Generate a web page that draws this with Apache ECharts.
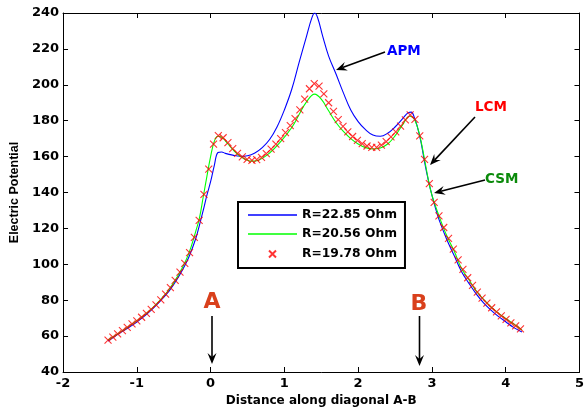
<!DOCTYPE html>
<html><head><meta charset="utf-8">
<script src="https://cdn.jsdelivr.net/npm/echarts@6/dist/echarts.min.js"></script>
<style>html,body{margin:0;padding:0;background:#fff}#c{width:587px;height:413px}</style>
</head><body><div id="c"></div>
<script>
// ---- data ----
const seriesNames = ['R=22.85 Ohm', 'R=20.56 Ohm', 'R=19.78 Ohm'];
const xTicks = [-2, -1, 0, 1, 2, 3, 4, 5];
const yTicks = [40, 60, 80, 100, 120, 140, 160, 180, 200, 220, 240];

// APM, R=22.85 Ohm (blue line)
const apmX = [-1.39,-1.2,-1.0,-0.8,-0.6,-0.5,-0.4,-0.3,-0.2,-0.15,-0.1,-0.05,0.0,0.05,0.1,0.15,0.2,0.3,0.4,0.5,0.6,0.7,0.8,0.9,1.0,1.1,1.2,1.3,1.37,1.41,1.45,1.52,1.6,1.7,1.8,1.9,2.0,2.1,2.2,2.3,2.4,2.5,2.6,2.68,2.72,2.76,2.8,2.85,2.9,2.95,3.0,3.05,3.1,3.2,3.3,3.4,3.5,3.6,3.7,3.8,3.9,4.0,4.1,4.22];
const apmY = [57.3,62.5,67.8,74.6,83.2,88.8,95.5,103.5,114.5,122,130,138.5,146,155,162.3,162.6,161.8,160.8,160.2,160.5,162,165,169.5,176.5,186,197.5,212.5,227,237,240,237.5,227,216,206,195.5,186,179.5,175,172,171.3,173,176.5,181,184.5,184.8,182,177,168.5,157,147,138.5,131,124.5,114,105,96,89.5,83.5,78.5,74.5,71,68,65,62.3];

// CSM, R=20.56 Ohm (green line)
const csmX = [-1.39,-1.2,-1.0,-0.8,-0.6,-0.5,-0.4,-0.3,-0.2,-0.15,-0.1,-0.05,0.0,0.05,0.1,0.15,0.2,0.3,0.4,0.5,0.56,0.65,0.8,0.95,1.1,1.2,1.3,1.41,1.5,1.6,1.7,1.8,1.9,2.0,2.1,2.2,2.3,2.4,2.5,2.6,2.7,2.75,2.8,2.85,2.9,2.95,3.0,3.1,3.2,3.3,3.4,3.5,3.6,3.7,3.8,3.9,4.0,4.1,4.22];
const csmY = [57.8,62.9,68.6,75.2,84,89.8,96.8,105.5,118.5,126,137.5,149,160,168.5,171.3,170.8,168.8,164,160.2,158,157.5,158,162,168.3,176.2,183.5,190.5,194.8,192,185.5,179,174,170,167,165,164.2,164.8,167,171.5,177.5,182.5,181.5,177,169,158.5,147.5,138.5,126.5,116,107.5,97.8,91.5,85.2,80.5,76.2,72.8,69.8,67,63.4];

// LCM, R=19.78 Ohm (red crosses)
const lcmX = [-1.39,-1.325,-1.26,-1.195,-1.13,-1.065,-1.0,-0.935,-0.87,-0.805,-0.74,-0.675,-0.61,-0.545,-0.48,-0.415,-0.35,-0.285,-0.22,-0.155,-0.09,-0.025,0.04,0.105,0.17,0.235,0.3,0.365,0.43,0.495,0.56,0.625,0.69,0.755,0.82,0.885,0.95,1.015,1.08,1.145,1.21,1.275,1.34,1.405,1.47,1.535,1.6,1.665,1.73,1.795,1.86,1.925,1.99,2.055,2.12,2.185,2.25,2.315,2.38,2.445,2.51,2.575,2.64,2.705,2.77,2.835,2.9,2.965,3.03,3.095,3.16,3.225,3.29,3.355,3.42,3.485,3.55,3.615,3.68,3.745,3.81,3.875,3.94,4.005,4.07,4.135,4.2];
const lcmY = [57.8,59.4,61.2,63.0,64.9,66.8,68.5,70.5,72.7,74.9,77.4,80.2,83.4,87.0,91.0,95.6,100.5,106.5,115,124.5,139,153,167,171.7,170.5,167.8,164.5,161.8,159.8,158.5,157.9,158.3,159.6,161.7,164.2,167,170,173.3,177.2,181.2,186,192,197.8,200.6,199.2,195,190,185.2,180.6,176.8,173.8,171.2,169,167.2,165.9,165.1,165.2,166.4,168.4,171,173.8,177,180.5,183.2,180.8,171.5,158.5,145,134.5,127,120.5,114.5,108.5,102.5,97.2,92.5,88.2,84.5,81.2,78.4,75.8,73.5,71.3,69.3,67.4,65.7,64.0];

const pairs = (xs, ys) => xs.map((x, i) => [x, ys[i]]);

const chart = echarts.init(document.getElementById('c'), null, {renderer: 'canvas'});
const tickFont = {fontFamily: 'DejaVu Sans', fontWeight: 'bold', fontSize: 13, color: '#000'};
const crossPath = 'path://M0,0L10,10M10,0L0,10';
const crossLegend = 'path://M-5,-5M15,15M0,0L10,10M10,0L0,10';
const lineLegend = 'path://M0,0M49,14M0,6.3L49,6.3L49,7.7L0,7.7Z';

function arrow(x1, y1, x2, y2) {
  const dx = x2 - x1, dy = y2 - y1, len = Math.hypot(dx, dy);
  const ux = dx / len, uy = dy / len, px = -uy, py = ux;
  const L = 11, W = 4.5, N = 7;
  const bx = x2 - ux * L, by = y2 - uy * L;
  return [
    {type: 'line', shape: {x1: x1, y1: y1, x2: x2 - ux * N, y2: y2 - uy * N}, style: {stroke: '#000', lineWidth: 1.6}},
    {type: 'polygon', shape: {points: [[x2, y2], [bx + px * W, by + py * W], [x2 - ux * N, y2 - uy * N], [bx - px * W, by - py * W]]}, style: {fill: '#000'}}
  ];
}

const annoFont = 'bold 13.5px "DejaVu Sans"';
const graphics = [].concat(
  arrow(385, 52, 336, 70),
  arrow(475, 117, 430, 165),
  arrow(485, 180, 434, 193),
  arrow(212, 316, 212, 364),
  arrow(419.5, 316, 419.5, 366),
  [
    {type: 'text', left: 387, top: 44, style: {text: 'APM', font: annoFont, fill: '#0000ff'}},
    {type: 'text', left: 475, top: 100, style: {text: 'LCM', font: annoFont, fill: '#ff0000'}},
    {type: 'text', left: 485, top: 172, style: {text: 'CSM', font: annoFont, fill: '#0b8a0b'}},
    {type: 'text', x: 212, y: 302, style: {text: 'A', font: 'bold 22px "DejaVu Sans"', fill: '#d9401c', align: 'center', verticalAlign: 'middle'}},
    {type: 'text', x: 419, y: 304, style: {text: 'B', font: 'bold 22px "DejaVu Sans"', fill: '#d9401c', align: 'center', verticalAlign: 'middle'}}
  ]
);

const option = {
  animation: false,
  backgroundColor: '#fff',
  grid: {left: 63, right: 4, top: 13, bottom: 41, containLabel: false},
  legend: {
    orient: 'vertical', left: 238, top: 202,
    padding: [6, 8, 6, 10], itemWidth: 49, itemHeight: 14, itemGap: 5,
    borderColor: '#000', borderWidth: 2, backgroundColor: '#fff',
    textStyle: {fontFamily: 'DejaVu Sans', fontWeight: 'bold', fontSize: 12.3, color: '#000'},
    data: [
      {name: seriesNames[0], icon: lineLegend, itemStyle: {color: '#0000ff'}},
      {name: seriesNames[1], icon: lineLegend, itemStyle: {color: '#00ff00'}},
      {name: seriesNames[2], icon: crossLegend}
    ]
  },
  xAxis: [
    {type: 'value', min: xTicks[0], max: xTicks[xTicks.length - 1], interval: 1,
     name: 'Distance along diagonal A-B', nameLocation: 'middle', nameGap: 23,
     nameTextStyle: {fontFamily: 'DejaVu Sans', fontWeight: 'bold', fontSize: 12, color: '#000'},
     axisLine: {show: true, onZero: false, lineStyle: {color: '#000', width: 1}},
     axisTick: {show: true, inside: true, length: 5, lineStyle: {color: '#000'}},
     axisLabel: Object.assign({margin: 5}, tickFont), splitLine: {show: false}},
    {type: 'value', position: 'top', min: xTicks[0], max: xTicks[xTicks.length - 1], interval: 1,
     axisLine: {show: true, onZero: false, lineStyle: {color: '#000', width: 1}},
     axisTick: {show: true, inside: true, length: 5, lineStyle: {color: '#000'}},
     axisLabel: {show: false}, splitLine: {show: false}}
  ],
  yAxis: [
    {type: 'value', min: yTicks[0], max: yTicks[yTicks.length - 1], interval: 20,
     name: 'Electric Potential', nameLocation: 'middle', nameGap: 38, nameRotate: 90,
     nameTextStyle: {fontFamily: 'Liberation Sans', fontWeight: 'bold', fontSize: 12.5, color: '#000'},
     axisLine: {show: true, onZero: false, lineStyle: {color: '#000', width: 1}},
     axisTick: {show: true, inside: true, length: 5, lineStyle: {color: '#000'}},
     axisLabel: Object.assign({margin: 4}, tickFont), splitLine: {show: false}},
    {type: 'value', position: 'right', min: yTicks[0], max: yTicks[yTicks.length - 1], interval: 20,
     axisLine: {show: true, onZero: false, lineStyle: {color: '#000', width: 1}},
     axisTick: {show: true, inside: true, length: 5, lineStyle: {color: '#000'}},
     axisLabel: {show: false}, splitLine: {show: false}}
  ],
  series: [
    {name: seriesNames[0], type: 'line', data: pairs(apmX, apmY), symbol: 'none', smooth: 0.4,
     lineStyle: {color: '#0000ff', width: 1.1}, itemStyle: {color: '#0000ff'}, z: 2},
    {name: seriesNames[1], type: 'line', data: pairs(csmX, csmY), symbol: 'none', smooth: 0.4,
     lineStyle: {color: '#00ff00', width: 1.1}, itemStyle: {color: '#00ff00'}, z: 3},
    {name: seriesNames[2], type: 'scatter', data: pairs(lcmX, lcmY), symbol: crossPath, symbolSize: 7,
     itemStyle: {color: 'transparent', borderColor: '#ff0000', borderWidth: 1.1}, z: 4}
  ],
  graphic: graphics
};
chart.setOption(option);
</script></body></html>
